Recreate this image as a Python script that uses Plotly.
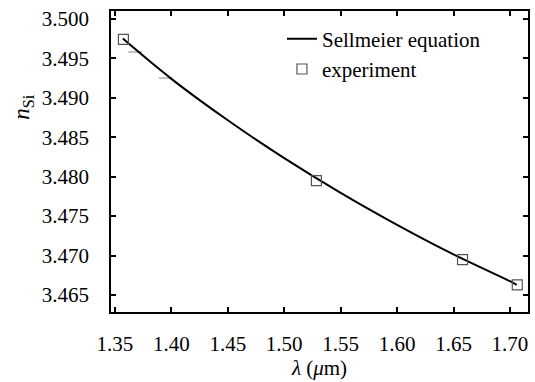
import plotly.graph_objects as go

# Sellmeier curve
curve_wl = [1.357, 1.40, 1.45, 1.50, 1.55, 1.60, 1.65, 1.70, 1.706]
curve_n = [3.4975, 3.4924, 3.48715, 3.48235, 3.47795, 3.4739, 3.47015, 3.46675, 3.4663]

# experiment points
exp_wl = [1.3575, 1.5285, 1.658, 1.7065]
exp_n = [3.4974, 3.4795, 3.4695, 3.4663]

# faint extra marks near the curve
mark_wl = [1.368, 1.395]
mark_n = [3.4958, 3.4925]

x_ticks = [1.35, 1.40, 1.45, 1.50, 1.55, 1.60, 1.65, 1.70]
y_ticks = [3.465, 3.470, 3.475, 3.480, 3.485, 3.490, 3.495, 3.500]

FONT = "Liberation Serif, serif"
FS = 21

fig = go.Figure()
fig.add_trace(go.Scatter(x=mark_wl, y=mark_n, mode="markers", showlegend=False,
                         marker=dict(symbol="line-ew", size=10, line=dict(color="#888888", width=1))))
fig.add_trace(go.Scatter(x=curve_wl, y=curve_n, mode="lines", name="Sellmeier equation",
                         line=dict(color="black", width=2, shape="spline")))
fig.add_trace(go.Scatter(x=exp_wl, y=exp_n, mode="markers", name="experiment",
                         marker=dict(symbol="square-open", size=10, color="#555555",
                                     line=dict(width=1.2))))

axis_common = dict(showline=True, linecolor="black", linewidth=1.5, mirror="ticks",
                   ticks="inside", ticklen=5, tickwidth=1.5, tickcolor="black",
                   showgrid=False, zeroline=False,
                   tickfont=dict(family=FONT, size=FS, color="black"))

fig.update_xaxes(range=[1.3465, 1.7160], tickvals=x_ticks, tickformat=".2f",
                 ticklabelstandoff=12,
                 title=dict(text="<i>λ</i> (<i>μ</i>m)", font=dict(family=FONT, size=FS, color="black"),
                            standoff=4),
                 **axis_common)
fig.update_yaxes(range=[3.46285, 3.5010], tickvals=y_ticks, tickformat=".3f",
                 ticklabelstandoff=16, **axis_common)

fig.add_annotation(text="<i>n</i><sub>Si</sub>", textangle=-90, xref="paper", yref="paper",
                   x=-0.21, y=0.68, showarrow=False, xanchor="center", yanchor="middle",
                   font=dict(family=FONT, size=23, color="black"))

fig.update_layout(width=535, height=382, margin=dict(l=111, r=5, t=11, b=70),
                  plot_bgcolor="white", paper_bgcolor="white",
                  font=dict(family=FONT),
                  legend=dict(x=0.41, y=0.975, xanchor="left", yanchor="top",
                              bgcolor="rgba(0,0,0,0)", font=dict(family=FONT, size=FS, color="black"),
                              tracegroupgap=0, itemwidth=30))

fig.write_html("out.html")
